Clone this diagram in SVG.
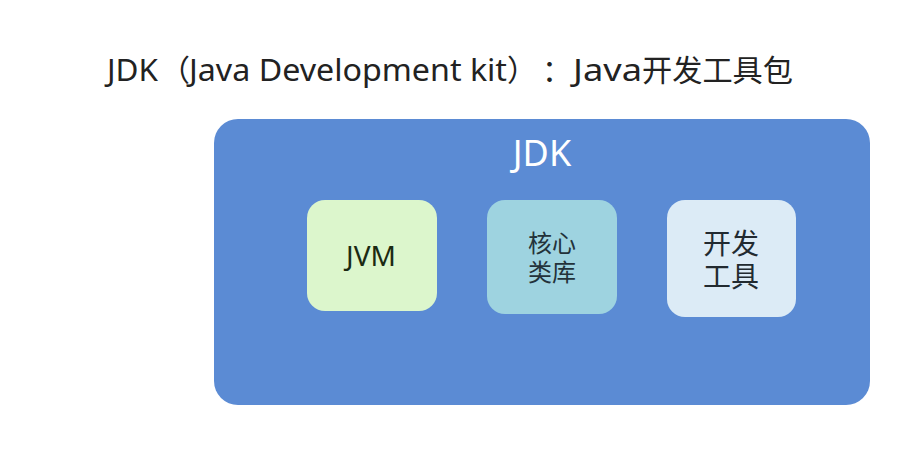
<svg xmlns="http://www.w3.org/2000/svg" width="922" height="454" viewBox="0 0 922 454">
<style>
text{font-family:"Noto Sans","Noto Sans CJK SC",sans-serif;text-anchor:middle}
.title{font-size:30px;fill:#222;text-anchor:start}
.cjk{font-family:"Noto Sans CJK SC",sans-serif}
</style>
<rect width="922" height="454" fill="#ffffff"/>
<text class="title" y="81"><tspan x="107" textLength="51" lengthAdjust="spacingAndGlyphs">JDK</tspan><tspan class="cjk" x="160">（</tspan><tspan x="189" textLength="318" lengthAdjust="spacingAndGlyphs">Java Development kit</tspan><tspan class="cjk" x="507">）</tspan><tspan class="cjk" x="542">：</tspan><tspan x="573" textLength="69" lengthAdjust="spacingAndGlyphs">Java</tspan><tspan class="cjk" x="642" textLength="151" lengthAdjust="spacingAndGlyphs">开发工具包</tspan></text>
<g id="jdk">
<rect x="214" y="119" width="656" height="286" rx="24" fill="#5b8bd4"/>
<text x="542" y="166" font-size="36" fill="#ffffff">JDK</text>
</g>
<g id="jvm">
<rect x="307" y="200" width="130" height="111" rx="18" fill="#dcf6cc"/>
<text x="371" y="266" font-size="28" fill="#1b2a12">JVM</text>
</g>
<g id="core">
<rect x="487" y="200" width="130" height="114" rx="18" fill="#9ed3e0"/>
<text font-size="24" fill="#23323a"><tspan x="552" y="252">核心</tspan><tspan x="552" y="281">类库</tspan></text>
</g>
<g id="tools">
<rect x="667" y="200" width="129" height="117" rx="18" fill="#dcebf6"/>
<text font-size="28" fill="#222a30"><tspan x="731" y="254">开发</tspan><tspan x="731" y="287">工具</tspan></text>
</g>
<g id="connectors"></g>
</svg>
